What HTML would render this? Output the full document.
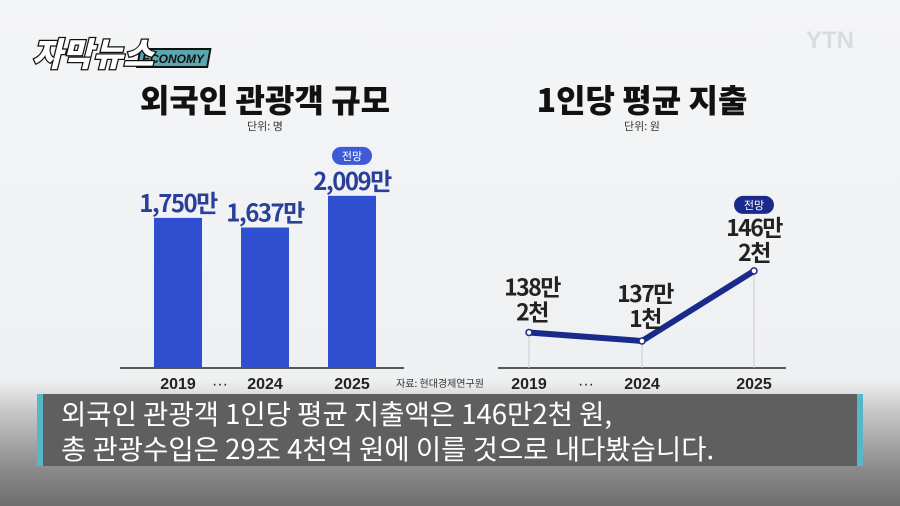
<!DOCTYPE html>
<html><head><meta charset="utf-8"><style>
body{margin:0;width:900px;height:506px;overflow:hidden;font-family:"Liberation Sans","Noto Sans CJK KR",sans-serif;}
#bg{position:absolute;left:0;top:0;width:900px;height:506px;background:linear-gradient(#f4f5f7 0px,#eef0f2 380px,#c9c9c9 410px,#8a8a8a 470px,#6e6e6e 506px);}
svg{position:absolute;left:0;top:0}
.cap{position:absolute;left:37px;top:394px;width:826px;height:72px;background:#5f5f5f;border-left:6px solid #58b7c6;border-right:6px solid #58b7c6;color:#fff;font-size:27.5px;line-height:35px;padding-left:18px;box-sizing:border-box;padding-top:1px;font-family:"Noto Sans CJK KR",sans-serif;white-space:nowrap;}
</style></head><body>
<div id="bg"></div>
<svg width="900" height="506" id="chart">
<g>
<rect x="149" y="49" width="70" height="18" fill="#5aa7b0" stroke="#111" stroke-width="2" transform="skewX(-10)"/>
<text x="142" y="63" font-size="12" font-weight="bold" font-style="italic" fill="#111">ECONOMY</text>
<text x="32" y="66" font-size="33" font-weight="900" fill="#fff" stroke="#111" stroke-width="2.5" paint-order="stroke" font-family="Noto Sans CJK KR" font-style="italic">자막뉴스</text>
</g>
<text x="830" y="48" font-size="24" font-weight="bold" fill="#d8dbe0" text-anchor="middle">YTN</text>
<text x="265" y="112" font-size="32" font-weight="900" fill="#111" text-anchor="middle" font-family="Noto Sans CJK KR">외국인 관광객 규모</text>
<text x="265" y="130" font-size="11" fill="#333" text-anchor="middle" font-family="Noto Sans CJK KR">단위: 명</text>
<text x="642" y="112" font-size="32" font-weight="900" fill="#111" text-anchor="middle" font-family="Noto Sans CJK KR">1인당 평균 지출</text>
<text x="642" y="130" font-size="11" fill="#333" text-anchor="middle" font-family="Noto Sans CJK KR">단위: 원</text>
<line x1="120" y1="368" x2="404" y2="368" stroke="#222" stroke-width="1.5"/>
<line x1="498" y1="368" x2="786" y2="368" stroke="#222" stroke-width="1.5"/>
<text x="440" y="387" font-size="10" fill="#333" text-anchor="middle" font-family="Noto Sans CJK KR">자료: 현대경제연구원</text>
<text x="220" y="389" font-size="16" fill="#222" text-anchor="middle">···</text>
<text x="586" y="389" font-size="16" fill="#222" text-anchor="middle">···</text>
</svg>
<div class="cap">외국인 관광객 1인당 평균 지출액은 146만2천 원,<br>총 관광수입은 29조 4천억 원에 이를 것으로 내다봤습니다.</div>
<script>
const barYears=["2019","2024","2025"];
const barValues=[1750,1637,2009];
const barLabels=["1,750만","1,637만","2,009만"];
const lineYears=["2019","2024","2025"];
const lineValues=[138.2,137.1,146.2];
const lineLabels=[["138만","2천"],["137만","1천"],["146만","2천"]];
const forecastIndex=2;
const NS="http://www.w3.org/2000/svg";
const svg=document.getElementById('chart');
function mk(t,a,txt){const e=document.createElementNS(NS,t);for(const k in a)e.setAttribute(k,a[k]);if(txt!==undefined)e.textContent=txt;svg.appendChild(e);return e;}
const bx=i=>178+i*87, by=v=>367-v*0.0852;
barValues.forEach((v,i)=>{
 const r=mk('rect',{x:bx(i)-24,y:by(v),width:48,height:367-by(v),fill:'#2f4fd0'});
 
 
 const t=mk('text',{x:bx(i),y:by(v)-6,'font-size':24,'font-weight':'bold',fill:'#2a3f9a','text-anchor':'middle','font-family':'Noto Sans CJK KR','letter-spacing':'-1.5'},barLabels[i]);
 
 
 const y=mk('text',{x:bx(i),y:389,'font-size':16,'font-weight':'bold',fill:'#222','text-anchor':'middle'},barYears[i]);
 
 
});
function badge(cx,cy,fill){const g=mk('rect',{x:cx-20,y:cy-9,width:40,height:18,rx:9,fill:fill});
 const t=mk('text',{x:cx,y:cy+4,'font-size':11,fill:'#fff','text-anchor':'middle','font-family':'Noto Sans CJK KR'},'전망');}
badge(bx(forecastIndex),by(barValues[forecastIndex])-40,'#3d5bd6');
const lx=i=>[529,642,754][i], ly=v=>341-(v-137.1)*7.7;
const labOff=[12,14,10];
lineValues.forEach((v,i)=>{const g=mk('line',{x1:lx(i),y1:ly(v),x2:lx(i),y2:368,stroke:'#ccc','stroke-width':1});});
const pl=mk('polyline',{points:lineValues.map((v,i)=>lx(i)+','+ly(v)).join(' '),fill:'none',stroke:'#1a2a8a','stroke-width':6,'stroke-linejoin':'round'});


lineValues.forEach((v,i)=>{
 const c=mk('circle',{cx:lx(i),cy:ly(v),r:3,fill:'#fff',stroke:'#1a2a8a','stroke-width':1.5});
 
 
 lineLabels[i].forEach((s,j)=>{const t=mk('text',{x:lx(i)+(i==2?0:3),y:ly(v)-labOff[i]-(1-j)*25,'font-size':23,'font-weight':'bold',fill:'#222','text-anchor':'middle','font-family':'Noto Sans CJK KR','letter-spacing':'-1.5'},s);
  
  });
 const y=mk('text',{x:lx(i),y:389,'font-size':16,'font-weight':'bold',fill:'#222','text-anchor':'middle'},lineYears[i]);
 
 
});
badge(lx(forecastIndex),ly(lineValues[forecastIndex])-66,'#1a2a8a');
</script>
</body></html>
